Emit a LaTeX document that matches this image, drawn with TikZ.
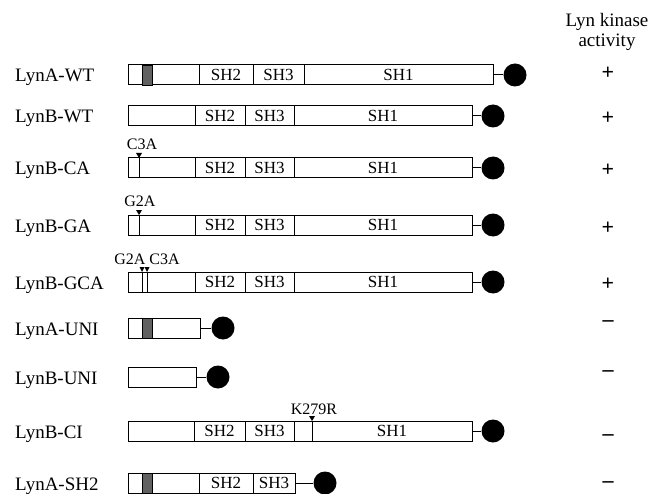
\documentclass[tikz,border=0pt]{standalone}
\usepackage{fontspec}
\setmainfont{Liberation Serif}
\usetikzlibrary{positioning}

\begin{document}
\begin{tikzpicture}[x=1pt,y=-1pt,
  rowname/.style={anchor=base west,inner sep=0pt,font=\fontsize{19}{19}\selectfont},
  seg/.style={draw,line width=1pt,inner sep=0pt,outer sep=0pt,minimum height=20pt,anchor=west,font=\fontsize{17}{17}\selectfont},
  band/.style={draw,fill=black!62,line width=0.6pt,inner sep=0pt,minimum width=10pt,minimum height=20pt},
  tail/.style={circle,fill=black,inner sep=0pt,minimum size=23pt},
  link/.style={line width=1pt},
  mutline/.style={line width=0.8pt},
  mutlabel/.style={anchor=base,inner sep=0pt,font=\fontsize{16}{16}\selectfont},
  sign/.style={anchor=base,inner sep=0pt,font=\fontsize{22}{22}\selectfont\bfseries}
]
\useasboundingbox (0,0) rectangle (652,494);

% activity column
\node[inner sep=0pt,anchor=north,align=center,font=\fontsize{19}{20}\selectfont] (head) at (607,13) {Lyn kinase\\activity};

% LynA-WT
\node[rowname] (awt) at (15,82) {LynA-WT};
\node[seg,minimum width=71pt] (awtn) at (128,75) {};
\node[band] (awtb) at (147,75) {};
\node[seg,minimum width=54pt] (awt2) at (awtn.east) {SH2};
\node[seg,minimum width=51pt] (awt3) at (awt2.east) {SH3};
\node[seg,minimum width=189pt] (awt1) at (awt3.east) {SH1};
\node[tail] (awtc) at (515,75) {};
\draw[link] (awt1.east) -- (awtc.west);
\node[sign] (awts) at (608,80) {+};

% LynB-WT
\node[rowname] (bwt) at (15,123) {LynB-WT};
\node[seg,minimum width=67pt] (bwtn) at (128,116) {};
\node[seg,minimum width=50pt] (bwt2) at (bwtn.east) {SH2};
\node[seg,minimum width=49pt] (bwt3) at (bwt2.east) {SH3};
\node[seg,minimum width=178pt] (bwt1) at (bwt3.east) {SH1};
\node[tail] (bwtc) at (493,116) {};
\draw[link] (bwt1.east) -- (bwtc.west);
\node[sign] (bwts) at (608,125) {+};

% LynB-CA
\node[rowname] (bca) at (15,175) {LynB-CA};
\node[seg,minimum width=67pt] (bcan) at (128,168) {};
\node[seg,minimum width=50pt] (bca2) at (bcan.east) {SH2};
\node[seg,minimum width=49pt] (bca3) at (bca2.east) {SH3};
\node[seg,minimum width=178pt] (bca1) at (bca3.east) {SH1};
\node[tail] (bcac) at (493,168) {};
\draw[link] (bca1.east) -- (bcac.west);
\coordinate (bcam) at (139,158);
\fill (bcam) -- ++(-3,-5) -- ++(6,0) -- cycle;
\draw[mutline] (bcam) -- ++(0,20);
\node[mutlabel] (bcal) at (142,150) {C3A};
\node[sign] (bcas) at (608,177) {+};

% LynB-GA
\node[rowname] (bga) at (15,232) {LynB-GA};
\node[seg,minimum width=67pt] (bgan) at (128,225) {};
\node[seg,minimum width=50pt] (bga2) at (bgan.east) {SH2};
\node[seg,minimum width=49pt] (bga3) at (bga2.east) {SH3};
\node[seg,minimum width=178pt] (bga1) at (bga3.east) {SH1};
\node[tail] (bgac) at (493,225) {};
\draw[link] (bga1.east) -- (bgac.west);
\coordinate (bgam) at (139,215);
\fill (bgam) -- ++(-3,-5) -- ++(6,0) -- cycle;
\draw[mutline] (bgam) -- ++(0,20);
\node[mutlabel] (bgal) at (140,207) {G2A};
\node[sign] (bgas) at (608,234) {+};

% LynB-GCA
\node[rowname] (bgca) at (15,289) {LynB-GCA};
\node[seg,minimum width=67pt] (bgcan) at (128,282) {};
\node[seg,minimum width=50pt] (bgca2) at (bgcan.east) {SH2};
\node[seg,minimum width=49pt] (bgca3) at (bgca2.east) {SH3};
\node[seg,minimum width=178pt] (bgca1) at (bgca3.east) {SH1};
\node[tail] (bgcac) at (493,282) {};
\draw[link] (bgca1.east) -- (bgcac.west);
\coordinate (bgcam) at (142,272);
\coordinate (bgcan2) at (147,272);
\fill (bgcam) -- ++(-2.5,-5) -- ++(5,0) -- cycle;
\fill (bgcan2) -- ++(-2.5,-5) -- ++(5,0) -- cycle;
\draw[mutline] (bgcam) -- ++(0,20);
\draw[mutline] (bgcan2) -- ++(0,20);
\node[mutlabel] (bgcal) at (147,264) {G2A C3A};
\node[sign] (bgcas) at (608,290) {+};

% LynA-UNI
\node[rowname] (auni) at (15,335) {LynA-UNI};
\node[seg,minimum width=72pt] (aunin) at (128,328) {};
\node[band] (aunib) at (147,328) {};
\node[tail] (aunic) at (223,328) {};
\draw[link] (aunin.east) -- (aunic.west);
\node[sign] (aunis) at (608,326) {--};

% LynB-UNI
\node[rowname] (buni) at (15,384) {LynB-UNI};
\node[seg,minimum width=68pt] (bunin) at (128,377) {};
\node[tail] (bunic) at (218,377) {};
\draw[link] (bunin.east) -- (bunic.west);
\node[sign] (bunis) at (608,376) {--};

% LynB-CI
\node[rowname] (bci) at (15,438) {LynB-CI};
\node[seg,minimum width=66pt] (bcin) at (128,431) {};
\node[seg,minimum width=51pt] (bci2) at (bcin.east) {SH2};
\node[seg,minimum width=49pt] (bci3) at (bci2.east) {SH3};
\node[seg,minimum width=18pt] (bcik) at (bci3.east) {};
\node[seg,minimum width=160pt] (bci1) at (bcik.east) {SH1};
\node[tail] (bcic) at (493,431) {};
\draw[link] (bci1.east) -- (bcic.west);
\coordinate (bcim) at (bcik.north east);
\fill (bcim) -- ++(-3,-5) -- ++(6,0) -- cycle;
\node[mutlabel] (bcil) at (314,414) {K279R};
\node[sign] (bcis) at (608,440) {--};

% LynA-SH2
\node[rowname] (ash) at (15,490) {LynA-SH2};
\node[seg,minimum width=71pt] (ashn) at (128,483) {};
\node[band] (ashb) at (147,483) {};
\node[seg,minimum width=54pt] (ash2) at (ashn.east) {SH2};
\node[seg,minimum width=42pt] (ash3) at (ash2.east) {SH3};
\node[tail] (ashc) at (325,483) {};
\draw[link] (ash3.east) -- (ashc.west);
\node[sign] (ashs) at (608,487) {--};
\end{tikzpicture}
\end{document}
